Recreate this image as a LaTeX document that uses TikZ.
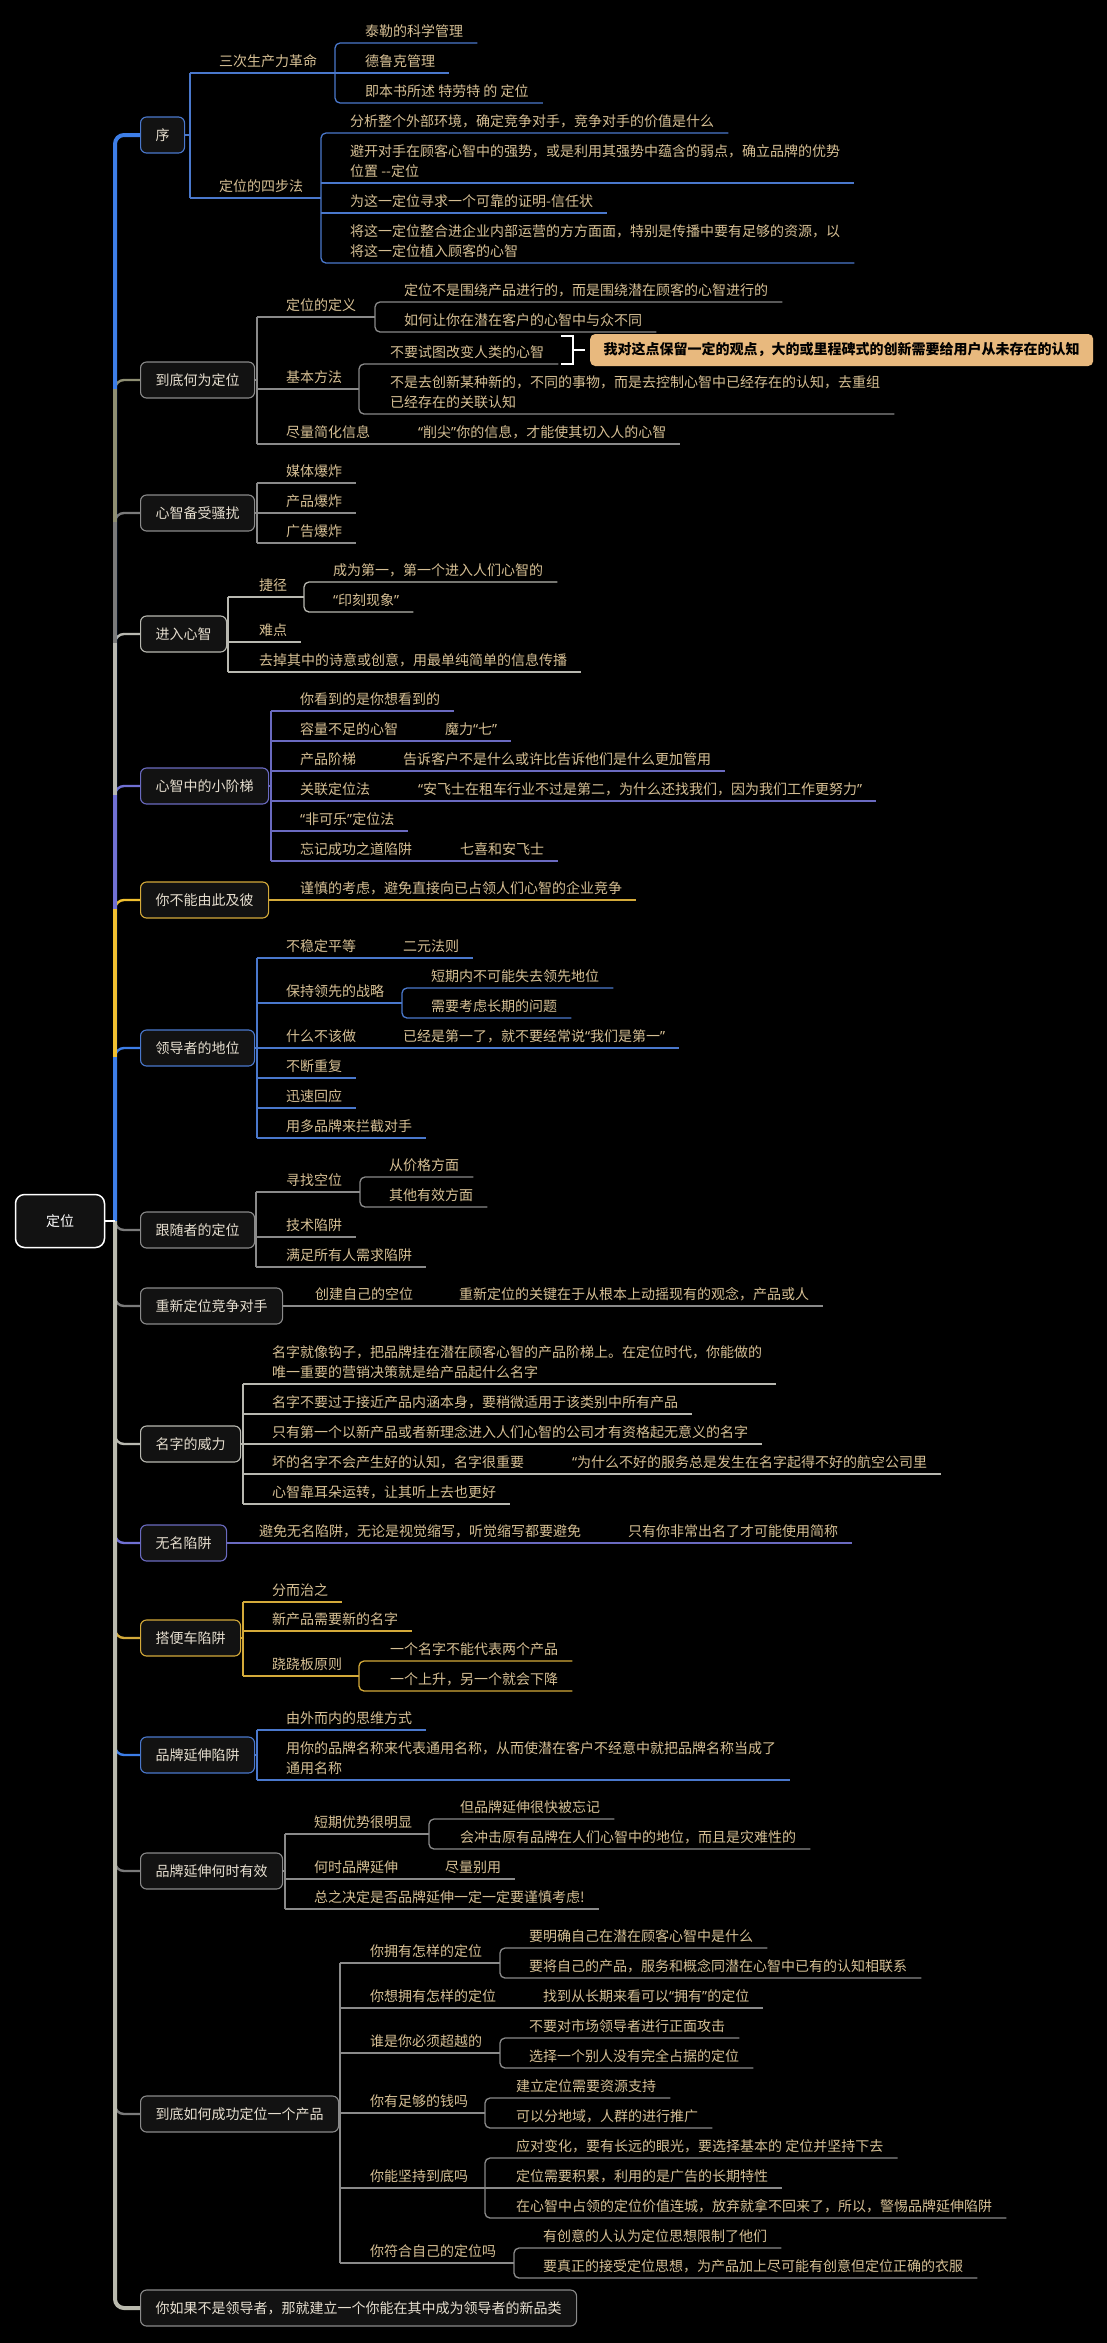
\documentclass[tikz,border=0pt]{standalone}
\usepackage{fontspec}
\newfontfamily\cjk{Noto Sans CJK SC}
\newfontfamily\latq{Noto Sans}
\usetikzlibrary{calc}
\definecolor{cblue}{HTML}{3D7EE8}
\definecolor{lblue}{HTML}{4A78CC}
\definecolor{colive}{HTML}{8E8E72}
\definecolor{cgrey}{HTML}{8A8A8A}
\definecolor{cdgrey}{HTML}{7A7A7A}
\definecolor{clgrey}{HTML}{B8B8B0}
\definecolor{cpurp}{HTML}{7070D4}
\definecolor{lpurp}{HTML}{6A6AC0}
\definecolor{cgold}{HTML}{F0C030}
\definecolor{lgold}{HTML}{D4AA3A}
\definecolor{spinel}{HTML}{BABAAE}
\definecolor{leaftxt}{HTML}{D6BF94}
\definecolor{maintxt}{HTML}{E6DECF}
\definecolor{boxbg}{HTML}{121212}
\definecolor{notebg}{HTML}{E8B97E}
\newcommand\oq{{\latq “}}
\newcommand\cq{{\latq ”}}
\newcommand\twol[2]{\begin{tabular}[b]{@{}l@{}}#1\\#2\end{tabular}}
\newcommand\kgroup[4]{\draw[ln=#1, rounded corners=5pt] (#3.south east) -- (#2 |- #3.south) -- (#2 |- #4.south) -- (#4.south east);}
\newcommand\kline[3]{\draw[ln=#1] (#2 |- #3.south) -- (#3.south east);}
\newcommand\klink[4]{\draw[ln=#1] (#2 |- #3.south) -- (#4 |- #3.south);}
\newcommand\kvert[4]{\draw[ln=#1] (#2 |- #3.south) -- (#2 |- #4.south);}
\newcommand\kstub[3]{\draw[ln=#1] (#2.east) -- (#3 |- #2.east);}
\tikzset{
  lf/.style={font={\cjk\fontsize{14pt}{20pt}\selectfont}, text=leaftxt, anchor=south west, inner xsep=14pt, inner ysep=0pt, text depth=6.5pt},
  mb/.style={draw=#1, line width=1.1pt, rounded corners=6pt, fill=boxbg, text=maintxt, font={\cjk\fontsize{14pt}{20pt}\selectfont}, inner xsep=15pt, inner ysep=0pt, minimum height=36pt, anchor=west},
  rootbox/.style={draw=white, line width=1.5pt, rounded corners=9pt, fill=boxbg, text=white, font={\cjk\fontsize{14pt}{20pt}\selectfont}, minimum width=89pt, minimum height=53pt},
  notebox/.style={fill=notebg, rounded corners=5pt, text=black, font={\cjk\bfseries\fontsize{14pt}{20pt}\selectfont}, inner xsep=13.5pt, inner ysep=0pt, minimum height=32pt, anchor=west},
  ln/.style={draw=#1, line width=1.3pt},
  stb/.style={draw=#1, line width=2.4pt, rounded corners=9pt},
  spn/.style={draw=#1, line width=4pt, rounded corners=9pt},
}
\begin{document}
\begin{tikzpicture}[x=1pt,y=-1pt]
\fill[black] (0,0) rectangle (1107,2343);
\useasboundingbox (0,0) rectangle (1107,2343);

% root and main topics
\node[rootbox] (root) at (60,1221) {定位};
\node[mb=lblue] (m1) at (140,135) {序};
\node[mb=cgrey] (m2) at (140,380) {到底何为定位};
\node[mb=cgrey] (m3) at (140,513) {心智备受骚扰};
\node[mb=clgrey] (m4) at (140,634) {进入心智};
\node[mb=lpurp] (m5) at (140,786) {心智中的小阶梯};
\node[mb=lgold] (m6) at (140,900) {你不能由此及彼};
\node[mb=lblue] (m7) at (140,1048) {领导者的地位};
\node[mb=cgrey] (m8) at (140,1230) {跟随者的定位};
\node[mb=cgrey] (m9) at (140,1306) {重新定位竞争对手};
\node[mb=clgrey] (m10) at (140,1444) {名字的威力};
\node[mb=lpurp] (m11) at (140,1543) {无名陷阱};
\node[mb=lgold] (m12) at (140,1638) {搭便车陷阱};
\node[mb=lblue] (m13) at (140,1755) {品牌延伸陷阱};
\node[mb=cgrey] (m14) at (140,1871) {品牌延伸何时有效};
\node[mb=cgrey] (m15) at (140,2114) {到底如何成功定位一个产品};
\node[mb=cgrey] (m16) at (140,2308) {你如果不是领导者，那就建立一个你能在其中成为领导者的新品类};

% spine
\coordinate (sp) at (115,1221);
\foreach \m/\c in {m2/colive,m3/cdgrey,m4/clgrey,m5/cpurp,m6/cgold,m7/cblue,m8/cdgrey,m9/cdgrey,m10/clgrey,m11/cpurp,m12/lgold,m13/cblue,m14/cdgrey,m15/cdgrey}
  \draw[stb=\c] (sp) |- (\m.west);
\draw[spn=cblue] (sp) |- (m1.west);
\foreach \m/\c in {m2/colive,m3/cdgrey,m4/clgrey,m5/cpurp,m6/cgold,m7/cblue}
  \draw[spn=\c, rounded corners=0pt, shorten >=9pt] (sp) -- (sp |- \m.west);
\draw[spn=spinel] (sp) |- (m16.west);
\draw[white, line width=2pt] (root.east) -- (sp);

% ---------- 1 序
\coordinate (v1) at (190,0);
\coordinate (w1) at (335,0);
\coordinate (w2) at (321,0);
\node[lf] (a1) at (205,73) {三次生产力革命};
\node[lf] (a11) at (351,43) {泰勒的科学管理};
\node[lf] (a12) at (351,73) {德鲁克管理};
\node[lf] (a13) at (351,103) {即本书所述 特劳特 的 定位};
\node[lf] (a2) at (205,198) {定位的四步法};
\node[lf] (a21) at (336,133) {分析整个外部环境，确定竞争对手，竞争对手的价值是什么};
\node[lf] (a22) at (336,183) {\twol{避开对手在顾客心智中的强势，或是利用其强势中蕴含的弱点，确立品牌的优势}{位置 --定位}};
\node[lf] (a23) at (336,213) {为这一定位寻求一个可靠的证明-信任状};
\node[lf] (a24) at (336,263) {\twol{将这一定位整合进企业内部运营的方方面面，特别是传播中要有足够的资源，以}{将这一定位植入顾客的心智}};
\kstub{lblue}{m1}{v1}
\kvert{lblue}{v1}{a1}{a2}
\klink{lblue}{v1}{a1}{w1}
\kgroup{lblue}{w1}{a11}{a13}
\kline{lblue}{w1}{a12}
\klink{lblue}{v1}{a2}{w2}
\kgroup{lblue}{w2}{a21}{a24}
\kline{lblue}{w2}{a22}
\kline{lblue}{w2}{a23}

% ---------- 2 到底何为定位
\coordinate (v2) at (257,0);
\coordinate (w3) at (375,0);
\coordinate (w4) at (359,0);
\node[lf] (b1) at (272,317) {定位的定义};
\node[lf] (b11) at (390,302) {定位不是围绕产品进行的，而是围绕潜在顾客的心智进行的};
\node[lf] (b12) at (390,332) {如何让你在潜在客户的心智中与众不同};
\node[lf] (b2) at (272,389) {基本方法};
\node[lf] (b21) at (376,364) {不要试图改变人类的心智};
\node[lf] (b22) at (376,414) {\twol{不是去创新某种新的，不同的事物，而是去控制心智中已经存在的认知，去重组}{已经存在的关联认知}};
\node[lf] (b3) at (272,444) {尽量简化信息};
\node[lf] (b31) at (404,444) {\oq 削尖\cq 你的信息，才能使其切入人的心智};
\kstub{cgrey}{m2}{v2}
\kvert{cgrey}{v2}{b1}{b3}
\klink{cgrey}{v2}{b1}{w3}
\kgroup{cgrey}{w3}{b11}{b12}
\klink{cgrey}{v2}{b2}{w4}
\kgroup{cgrey}{w4}{b21}{b22}
\kline{cgrey}{v2}{b31}
\node[notebox] (note) at (590,350) {我对这点保留一定的观点，大的或里程碑式的创新需要给用户从未存在的认知};
\draw[white, line width=2pt] (561,336) -- (573,336) -- (573,364) -- (561,364);
\draw[white, line width=2pt] (573,350) -- ([xshift=-5pt]note.west);

% ---------- 3 心智备受骚扰
\coordinate (v3) at (257,0);
\node[lf] (c1) at (272,483) {媒体爆炸};
\node[lf] (c2) at (272,513) {产品爆炸};
\node[lf] (c3) at (272,543) {广告爆炸};
\kstub{cgrey}{m3}{v3}
\kvert{cgrey}{v3}{c1}{c3}
\kline{cgrey}{v3}{c1}
\kline{cgrey}{v3}{c2}
\kline{cgrey}{v3}{c3}

% ---------- 4 进入心智
\coordinate (v4) at (228,0);
\coordinate (w5) at (304,0);
\node[lf] (d1) at (245,597) {捷径};
\node[lf] (d11) at (319,582) {成为第一，第一个进入人们心智的};
\node[lf] (d12) at (319,612) {\oq 印刻现象\cq};
\node[lf] (d2) at (245,642) {难点};
\node[lf] (d3) at (245,672) {去掉其中的诗意或创意，用最单纯简单的信息传播};
\kstub{clgrey}{m4}{v4}
\kvert{clgrey}{v4}{d1}{d3}
\klink{clgrey}{v4}{d1}{w5}
\kgroup{clgrey}{w5}{d11}{d12}
\kline{clgrey}{v4}{d2}
\kline{clgrey}{v4}{d3}

% ---------- 5 心智中的小阶梯
\coordinate (v5) at (271,0);
\node[lf] (e1) at (286,711) {你看到的是你想看到的};
\node[lf] (e2) at (286,741) {容量不足的心智};
\node[lf] (e21) at (431,741) {魔力\oq 七\cq};
\node[lf] (e3) at (286,771) {产品阶梯};
\node[lf] (e31) at (389,771) {告诉客户不是什么或许比告诉他们是什么更加管用};
\node[lf] (e4) at (286,801) {关联定位法};
\node[lf] (e41) at (404,801) {\oq 安飞士在租车行业不过是第二，为什么还找我们，因为我们工作更努力\cq};
\node[lf] (e5) at (286,831) {\oq 非可乐\cq 定位法};
\node[lf] (e6) at (286,861) {忘记成功之道陷阱};
\node[lf] (e61) at (446,861) {七喜和安飞士};
\kstub{lpurp}{m5}{v5}
\kvert{lpurp}{v5}{e1}{e6}
\kline{lpurp}{v5}{e1}
\kline{lpurp}{v5}{e21}
\kline{lpurp}{v5}{e31}
\kline{lpurp}{v5}{e41}
\kline{lpurp}{v5}{e5}
\kline{lpurp}{v5}{e61}

% ---------- 6 你不能由此及彼
\node[lf] (f1) at (286,900) {谨慎的考虑，避免直接向已占领人们心智的企业竞争};
\draw[ln=lgold] (m6.east) -- (f1.south east);

% ---------- 7 领导者的地位
\coordinate (v7) at (257,0);
\coordinate (w6) at (402,0);
\node[lf] (g1) at (272,958) {不稳定平等};
\node[lf] (g11) at (389,958) {二元法则};
\node[lf] (g2) at (272,1003) {保持领先的战略};
\node[lf] (g21) at (417,988) {短期内不可能失去领先地位};
\node[lf] (g22) at (417,1018) {需要考虑长期的问题};
\node[lf] (g3) at (272,1048) {什么不该做};
\node[lf] (g31) at (389,1048) {已经是第一了，就不要经常说\oq 我们是第一\cq};
\node[lf] (g4) at (272,1078) {不断重复};
\node[lf] (g5) at (272,1108) {迅速回应};
\node[lf] (g6) at (272,1138) {用多品牌来拦截对手};
\kstub{lblue}{m7}{v7}
\kvert{lblue}{v7}{g1}{g6}
\kline{lblue}{v7}{g11}
\klink{lblue}{v7}{g2}{w6}
\kgroup{lblue}{w6}{g21}{g22}
\kline{lblue}{v7}{g31}
\kline{lblue}{v7}{g4}
\kline{lblue}{v7}{g5}
\kline{lblue}{v7}{g6}

% ---------- 8 跟随者的定位
\coordinate (v8) at (256,0);
\coordinate (w7) at (360,0);
\node[lf] (h1) at (272,1192) {寻找空位};
\node[lf] (h11) at (375,1177) {从价格方面};
\node[lf] (h12) at (375,1207) {其他有效方面};
\node[lf] (h2) at (272,1237) {技术陷阱};
\node[lf] (h3) at (272,1267) {满足所有人需求陷阱};
\kstub{cgrey}{m8}{v8}
\kvert{cgrey}{v8}{h1}{h3}
\klink{cgrey}{v8}{h1}{w7}
\kgroup{cgrey}{w7}{h11}{h12}
\kline{cgrey}{v8}{h2}
\kline{cgrey}{v8}{h3}

% ---------- 9 重新定位竞争对手
\node[lf] (i1) at (301,1306) {创建自己的空位};
\node[lf] (i11) at (445,1306) {重新定位的关键在于从根本上动摇现有的观念，产品或人};
\draw[ln=cgrey] (m9.east) -- (i11.south east);

% ---------- 10 名字的威力
\coordinate (v10) at (243,0);
\node[lf] (j1) at (258,1384) {\twol{名字就像钩子，把品牌挂在潜在顾客心智的产品阶梯上。在定位时代，你能做的}{唯一重要的营销决策就是给产品起什么名字}};
\node[lf] (j2) at (258,1414) {名字不要过于接近产品内涵本身，要稍微适用于该类别中所有产品};
\node[lf] (j3) at (258,1444) {只有第一个以新产品或者新理念进入人们心智的公司才有资格起无意义的名字};
\node[lf] (j4) at (258,1474) {坏的名字不会产生好的认知，名字很重要};
\node[lf] (j41) at (558,1474) {\oq 为什么不好的服务总是发生在名字起得不好的航空公司里};
\node[lf] (j5) at (258,1504) {心智靠耳朵运转，让其听上去也更好};
\kstub{clgrey}{m10}{v10}
\kvert{clgrey}{v10}{j1}{j5}
\kline{clgrey}{v10}{j1}
\kline{clgrey}{v10}{j2}
\kline{clgrey}{v10}{j3}
\kline{clgrey}{v10}{j41}
\kline{clgrey}{v10}{j5}

% ---------- 11 无名陷阱
\node[lf] (k1) at (245,1543) {避免无名陷阱，无论是视觉缩写，听觉缩写都要避免};
\node[lf] (k11) at (614,1543) {只有你非常出名了才可能使用简称};
\draw[ln=lpurp] (m11.east) -- (k11.south east);

% ---------- 12 搭便车陷阱
\coordinate (v12) at (243,0);
\coordinate (w8) at (359,0);
\node[lf] (l1) at (258,1602) {分而治之};
\node[lf] (l2) at (258,1631) {新产品需要新的名字};
\node[lf] (l3) at (258,1676) {跷跷板原则};
\node[lf] (l31) at (376,1661) {一个名字不能代表两个产品};
\node[lf] (l32) at (376,1691) {一个上升，另一个就会下降};
\kstub{lgold}{m12}{v12}
\kvert{lgold}{v12}{l1}{l3}
\kline{lgold}{v12}{l1}
\kline{lgold}{v12}{l2}
\klink{lgold}{v12}{l3}{w8}
\kgroup{lgold}{w8}{l31}{l32}

% ---------- 13 品牌延伸陷阱
\coordinate (v13) at (257,0);
\node[lf] (n1) at (272,1730) {由外而内的思维方式};
\node[lf] (n2) at (272,1780) {\twol{用你的品牌名称来代表通用名称，从而使潜在客户不经意中就把品牌名称当成了}{通用名称}};
\kstub{lblue}{m13}{v13}
\kvert{lblue}{v13}{n1}{n2}
\kline{lblue}{v13}{n1}
\kline{lblue}{v13}{n2}

% ---------- 14 品牌延伸何时有效
\coordinate (v14) at (285,0);
\coordinate (w9) at (429,0);
\node[lf] (o1) at (300,1834) {短期优势很明显};
\node[lf] (o11) at (446,1819) {但品牌延伸很快被忘记};
\node[lf] (o12) at (446,1849) {会冲击原有品牌在人们心智中的地位，而且是灾难性的};
\node[lf] (o2) at (300,1879) {何时品牌延伸};
\node[lf] (o21) at (431,1879) {尽量别用};
\node[lf] (o3) at (300,1909) {总之决定是否品牌延伸一定一定要谨慎考虑!};
\kstub{cgrey}{m14}{v14}
\kvert{cgrey}{v14}{o1}{o3}
\klink{cgrey}{v14}{o1}{w9}
\kgroup{cgrey}{w9}{o11}{o12}
\kline{cgrey}{v14}{o21}
\kline{cgrey}{v14}{o3}

% ---------- 15 到底如何成功定位一个产品
\coordinate (v15) at (340,0);
\coordinate (w10) at (500,0);
\coordinate (w11) at (485,0);
\coordinate (w12) at (514,0);
\node[lf] (p1) at (356,1963) {你拥有怎样的定位};
\node[lf] (p11) at (515,1948) {要明确自己在潜在顾客心智中是什么};
\node[lf] (p12) at (515,1978) {要将自己的产品，服务和概念同潜在心智中已有的认知相联系};
\node[lf] (p2) at (356,2008) {你想拥有怎样的定位};
\node[lf] (p21) at (529,2008) {找到从长期来看可以\oq 拥有\cq 的定位};
\node[lf] (p3) at (356,2053) {谁是你必须超越的};
\node[lf] (p31) at (515,2038) {不要对市场领导者进行正面攻击};
\node[lf] (p32) at (515,2068) {选择一个别人没有完全占据的定位};
\node[lf] (p4) at (356,2113) {你有足够的钱吗};
\node[lf] (p41) at (502,2098) {建立定位需要资源支持};
\node[lf] (p42) at (502,2128) {可以分地域，人群的进行推广};
\node[lf] (p5) at (356,2188) {你能坚持到底吗};
\node[lf] (p51) at (502,2158) {应对变化，要有长远的眼光，要选择基本的 定位并坚持下去};
\node[lf] (p52) at (502,2188) {定位需要积累，利用的是广告的长期特性};
\node[lf] (p53) at (502,2218) {在心智中占领的定位价值连城，放弃就拿不回来了，所以，警惕品牌延伸陷阱};
\node[lf] (p6) at (356,2263) {你符合自己的定位吗};
\node[lf] (p61) at (529,2248) {有创意的人认为定位思想限制了他们};
\node[lf] (p62) at (529,2278) {要真正的接受定位思想，为产品加上尽可能有创意但定位正确的衣服};
\kstub{cgrey}{m15}{v15}
\kvert{cgrey}{v15}{p1}{p6}
\klink{cgrey}{v15}{p1}{w10}
\kgroup{cgrey}{w10}{p11}{p12}
\kline{cgrey}{v15}{p21}
\klink{cgrey}{v15}{p3}{w10}
\kgroup{cgrey}{w10}{p31}{p32}
\klink{cgrey}{v15}{p4}{w11}
\kgroup{cgrey}{w11}{p41}{p42}
\klink{cgrey}{v15}{p5}{w11}
\kgroup{cgrey}{w11}{p51}{p53}
\kline{cgrey}{w11}{p52}
\klink{cgrey}{v15}{p6}{w12}
\kgroup{cgrey}{w12}{p61}{p62}
\end{tikzpicture}
\end{document}
